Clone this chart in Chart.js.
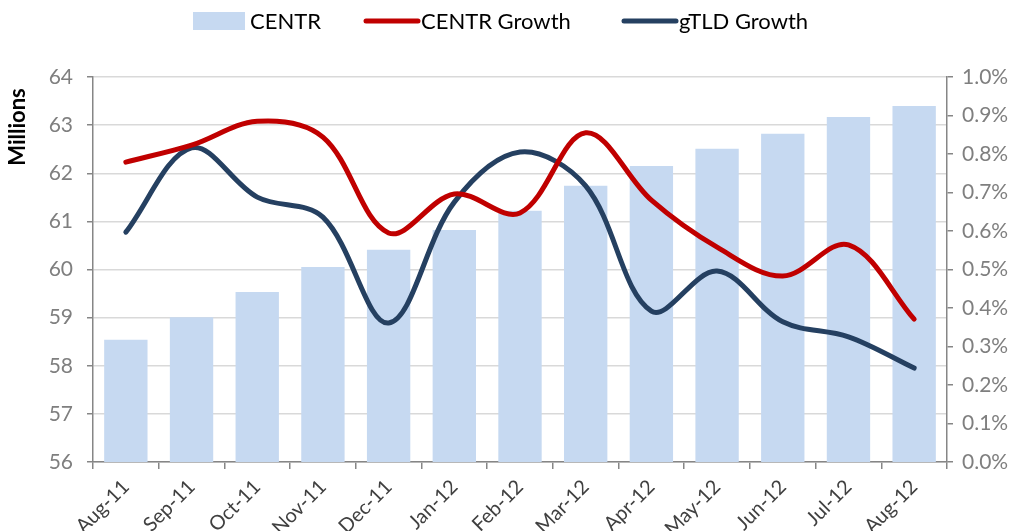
<!DOCTYPE html>
<html>
<head>
<meta charset="utf-8">
<script src="https://cdn.jsdelivr.net/npm/chart.js@4.4.1/dist/chart.umd.min.js"></script>
<style>
  html, body { margin: 0; padding: 0; background: #ffffff; }
  #wrap { width: 1024px; height: 531px; position: relative; }
</style>
</head>
<body>
<div id="wrap"><canvas id="c" width="1024" height="531"></canvas></div>
<script>
const categories = ['Aug-11','Sep-11','Oct-11','Nov-11','Dec-11','Jan-12','Feb-12','Mar-12','Apr-12','May-12','Jun-12','Jul-12','Aug-12'];
const centrMillions = [58.54, 59.01, 59.53, 60.05, 60.41, 60.82, 61.22, 61.74, 62.15, 62.51, 62.82, 63.17, 63.40];
const centrGrowth = [0.779, 0.823, 0.885, 0.844, 0.595, 0.696, 0.647, 0.855, 0.680, 0.558, 0.483, 0.564, 0.371];
const gtldGrowth = [0.597, 0.816, 0.688, 0.636, 0.361, 0.675, 0.805, 0.717, 0.392, 0.496, 0.364, 0.325, 0.244];
const seriesNames = ['CENTR', 'CENTR Growth', 'gTLD Growth'];
const leftAxisTitle = 'Millions';
const leftTicks = { min: 56, max: 64, step: 1 };
const rightTicks = { min: 0, max: 1, step: 0.1 };

const COL_BAR = '#C6D9F1';
const COL_RED = '#C00000';
const COL_BLUE = '#254061';
const FONT = 'Lato, "Noto Sans", sans-serif';

const legendPlugin = {
  id: 'customLegend',
  afterDraw(chart) {
    const ctx = chart.ctx;
    const items = [
      { x: 193, type: 'box', color: COL_BAR, text: seriesNames[0] },
      { x: 364, type: 'line', color: COL_RED, text: seriesNames[1] },
      { x: 622, type: 'line', color: COL_BLUE, text: seriesNames[2] }
    ];
    const cy = 21;
    ctx.save();
    ctx.font = '22px ' + FONT;
    ctx.textBaseline = 'middle';
    items.forEach(it => {
      if (it.type === 'box') {
        ctx.fillStyle = it.color;
        ctx.fillRect(it.x, cy - 9, 52, 18);
      } else {
        ctx.strokeStyle = it.color;
        ctx.lineWidth = 5;
        ctx.lineCap = 'round';
        ctx.beginPath();
        ctx.moveTo(it.x + 2, cy);
        ctx.lineTo(it.x + 54, cy);
        ctx.stroke();
      }
      ctx.fillStyle = '#000';
      ctx.textAlign = 'left';
      ctx.fillText(it.text, it.x + 57, cy + 1);
    });
    // left axis title
    ctx.translate(18, 127);
    ctx.rotate(-Math.PI / 2);
    ctx.font = 'bold 22px ' + FONT;
    ctx.textAlign = 'center';
    ctx.fillStyle = '#000';
    ctx.fillText(leftAxisTitle, 0, 0);
    ctx.restore();
  }
};

new Chart(document.getElementById('c'), {
  type: 'bar',
  data: {
    labels: categories,
    datasets: [
      {
        type: 'bar',
        label: seriesNames[0],
        data: centrMillions,
        backgroundColor: COL_BAR,
        borderWidth: 0,
        yAxisID: 'y',
        barPercentage: 0.66,
        categoryPercentage: 1.0,
        order: 2
      },
      {
        type: 'line',
        label: seriesNames[1],
        data: centrGrowth,
        borderColor: COL_RED,
        borderWidth: 5,
        pointRadius: 0,
        tension: 0.35,
        borderCapStyle: 'round',
        fill: false,
        yAxisID: 'y2',
        order: 0
      },
      {
        type: 'line',
        label: seriesNames[2],
        data: gtldGrowth,
        borderColor: COL_BLUE,
        borderWidth: 5,
        pointRadius: 0,
        tension: 0.35,
        borderCapStyle: 'round',
        fill: false,
        yAxisID: 'y2',
        order: 1
      }
    ]
  },
  options: {
    responsive: false,
    animation: false,
    devicePixelRatio: 1,
    layout: { padding: { top: 77, left: 0, right: 0, bottom: 0 } },
    plugins: {
      legend: { display: false },
      tooltip: { enabled: false }
    },
    scales: {
      x: {
        grid: { display: true, drawOnChartArea: false, offset: true, tickLength: 7, color: '#868686', lineWidth: 1.5 },
        border: { color: '#868686', width: 1.5 },
        ticks: { maxRotation: 45, minRotation: 45, color: '#404040', font: { family: FONT, size: 20 }, padding: 6 },
        afterFit(s) { s.height = 69; }
      },
      y: {
        position: 'left',
        min: leftTicks.min, max: leftTicks.max,
        ticks: { stepSize: leftTicks.step, color: '#7F7F7F', font: { family: FONT, size: 21 }, padding: 14 },
        grid: { color: '#D9D9D9', lineWidth: 1.5, tickLength: 6, tickColor: '#868686' },
        border: { color: '#868686', width: 1.5 },
        afterFit(s) { s.width = 93; }
      },
      y2: {
        position: 'right',
        min: rightTicks.min, max: rightTicks.max,
        ticks: { stepSize: rightTicks.step, color: '#7F7F7F', font: { family: FONT, size: 21 }, padding: 9,
          callback: v => v.toFixed(1) + '%' },
        grid: { drawOnChartArea: false, tickLength: 6, color: '#868686', lineWidth: 1.5 },
        border: { color: '#868686', width: 1.5 },
        afterFit(s) { s.width = 77; }
      }
    }
  },
  plugins: [legendPlugin]
});
</script>
</body>
</html>
